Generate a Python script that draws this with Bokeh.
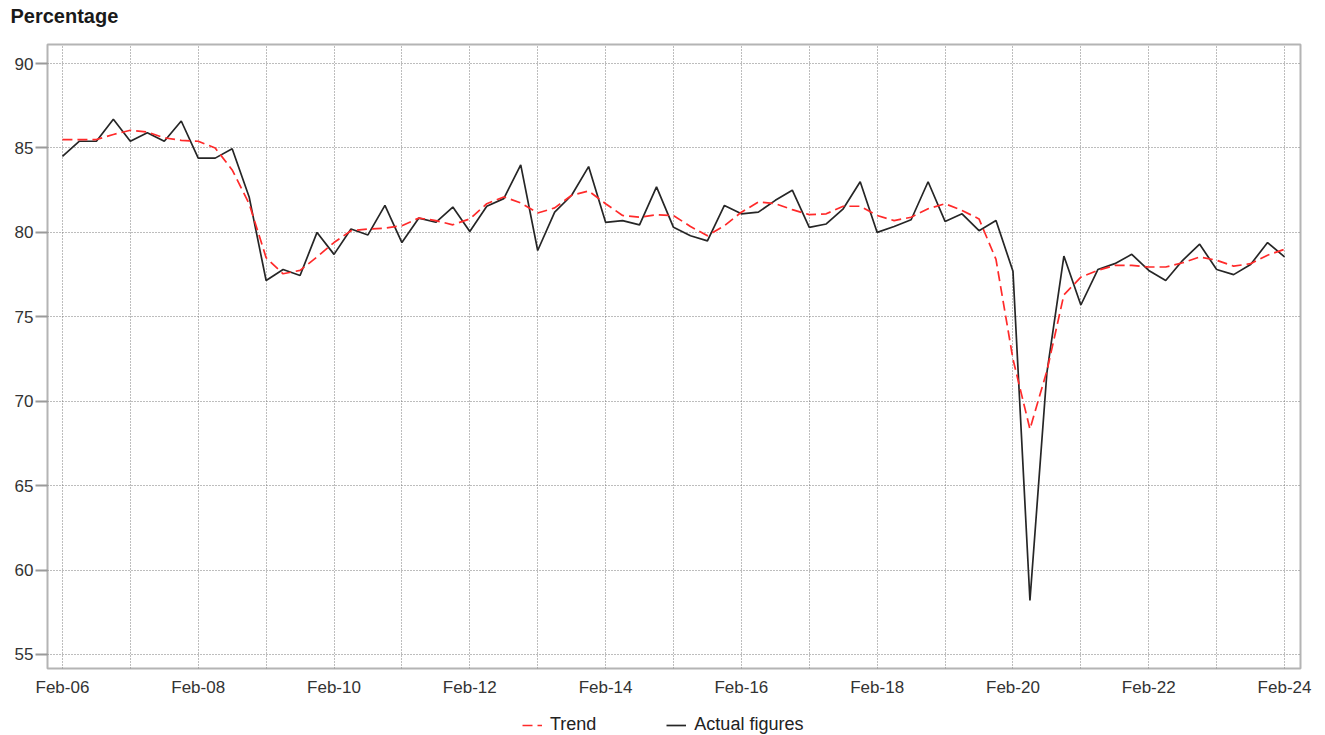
from bokeh.plotting import figure
from bokeh.models import Range1d, FixedTicker, Legend, LegendItem, ColumnDataSource
from bokeh.layouts import column
from bokeh.embed import file_html
from bokeh.resources import INLINE

# Quarterly observations, Feb-06 .. Feb-24 (index 0 = Feb-06, step = one quarter)
quarter_index = list(range(73))

actual = [84.5, 85.4, 85.4, 86.7, 85.4, 85.9, 85.4, 86.6, 84.4, 84.4,
          84.95, 82.1, 77.15, 77.8, 77.45, 80.0, 78.7, 80.2, 79.85, 81.6,
          79.4, 80.85, 80.6, 81.5, 80.05, 81.55, 82.0, 84.0, 78.93, 81.2,
          82.2, 83.9, 80.6, 80.7, 80.45, 82.7, 80.3, 79.8, 79.5, 81.6,
          81.1, 81.2, 81.9, 82.5, 80.3, 80.5, 81.4, 83.0, 80.0, 80.35,
          80.75, 83.0, 80.65, 81.1, 80.1, 80.7, 77.7, 58.2, 71.7, 78.6,
          75.7, 77.8, 78.15, 78.7, 77.75, 77.15, 78.35, 79.3, 77.8, 77.5,
          78.1, 79.4, 78.55]

trend = [85.5, 85.5, 85.5, 85.8, 86.05, 85.95, 85.6, 85.45, 85.4, 85.0,
         83.7, 81.7, 78.5, 77.55, 77.75, 78.55, 79.4, 80.1, 80.2, 80.25,
         80.4, 80.85, 80.7, 80.45, 80.8, 81.7, 82.1, 81.75, 81.15, 81.45,
         82.2, 82.45, 81.7, 81.0, 80.9, 81.05, 81.0, 80.35, 79.8, 80.4,
         81.2, 81.8, 81.7, 81.35, 81.05, 81.1, 81.55, 81.55, 81.0, 80.7,
         80.9, 81.4, 81.7, 81.3, 80.8, 78.4, 72.5, 68.35, 71.8, 76.3,
         77.35, 77.75, 78.05, 78.05, 77.95, 77.95, 78.2, 78.55, 78.35, 78.0,
         78.15, 78.65, 79.0]

year_ticks = list(range(0, 73, 4))
year_labels = ["Feb-06", "", "Feb-08", "", "Feb-10", "", "Feb-12", "", "Feb-14", "",
               "Feb-16", "", "Feb-18", "", "Feb-20", "", "Feb-22", "", "Feb-24"]
y_ticks = [55, 60, 65, 70, 75, 80, 85, 90]
title_text = "Percentage"
series_names = ["Trend", "Actual figures"]

FONT = "Liberation Sans"
ACTUAL_STYLE = dict(line_color="#262626", line_width=1.7)
TREND_STYLE = dict(line_color="#ff2a2a", line_width=1.7, line_dash="10 5")
W = 1325

# ---- header strip carrying the title (frames of the column are aligned at x=47) ----
hd = figure(width=W, height=36, output_backend="svg", toolbar_location=None,
            x_range=Range1d(0, 1), y_range=Range1d(0, 1),
            x_axis_location=None, y_axis_location=None,
            min_border_left=0, min_border_right=0, min_border_top=0, min_border_bottom=0,
            outline_line_color=None,
            background_fill_color="white", border_fill_color="white")
hd.grid.visible = False
hd.title.text = title_text
hd.title.text_font = FONT
hd.title.text_font_size = "20px"
hd.title.text_font_style = "bold"
hd.title.text_color = "#1a1a1a"
hd.title.align = "left"
hd.title.offset = -37
hd.title.standoff = 5

# ---- main chart ----
src = ColumnDataSource(dict(x=quarter_index, actual=actual, trend=trend))

p = figure(width=W, height=664, output_backend="svg", toolbar_location=None,
           x_range=Range1d(-0.88, 72.94), y_range=Range1d(54.17, 91.13),
           min_border_left=47, min_border_right=25, min_border_top=8, min_border_bottom=32,
           background_fill_color="white", border_fill_color="white")

p.outline_line_color = "#b4b4b4"
p.outline_line_width = 2

p.yaxis.ticker = FixedTicker(ticks=y_ticks)
p.yaxis.axis_line_color = None
p.yaxis.major_tick_out = 12
p.yaxis.major_tick_in = 0
p.yaxis.major_tick_line_color = "#9a9a9a"
p.yaxis.major_tick_line_width = 2
p.yaxis.minor_tick_line_color = None
p.yaxis.major_label_text_font = FONT
p.yaxis.major_label_text_font_size = "17px"
p.yaxis.major_label_text_color = "#333333"
p.yaxis.major_label_standoff = 2

p.xaxis.ticker = FixedTicker(ticks=year_ticks)
p.xaxis.major_label_overrides = {t: lab for t, lab in zip(year_ticks, year_labels)}
p.xaxis.axis_line_color = None
p.xaxis.major_tick_line_color = None
p.xaxis.minor_tick_line_color = None
p.xaxis.major_label_text_font = FONT
p.xaxis.major_label_text_font_size = "17px"
p.xaxis.major_label_text_color = "#333333"
p.xaxis.major_label_standoff = 3

p.grid.grid_line_color = "#7a7a7a"
p.grid.grid_line_dash = "1 2"
p.grid.grid_line_width = 1

p.line("x", "actual", source=src, **ACTUAL_STYLE)
p.line("x", "trend", source=src, **TREND_STYLE)

# ---- legend strip below the chart ----
lg = figure(width=W, height=35, output_backend="svg", toolbar_location=None,
            x_range=Range1d(0, 1), y_range=Range1d(0, 1),
            x_axis_location=None, y_axis_location=None,
            min_border_left=0, min_border_right=0, min_border_top=0, min_border_bottom=0,
            outline_line_color=None,
            background_fill_color="white", border_fill_color="white")
lg.grid.visible = False
# legend-key renderers: styled like the chart lines, their points lie off the visible range
key_src = ColumnDataSource(dict(x=[-5, -4], y=[-5, -5]))
lt = lg.line("x", "y", source=key_src, **TREND_STYLE)
la = lg.line("x", "y", source=key_src, **ACTUAL_STYLE)

legend = Legend(items=[LegendItem(label=series_names[0], renderers=[lt]),
                       LegendItem(label=series_names[1], renderers=[la])],
                orientation="horizontal", location=(475, 0),
                border_line_color=None, background_fill_alpha=0,
                label_text_font=FONT, label_text_font_size="18px",
                label_text_color="#222222",
                glyph_width=20, glyph_height=20, label_height=20,
                spacing=70, label_standoff=8,
                padding=0, margin=0)
lg.add_layout(legend, "center")

layout = column(hd, p, lg, spacing=0)
open("out.html", "w").write(file_html(layout, INLINE))
